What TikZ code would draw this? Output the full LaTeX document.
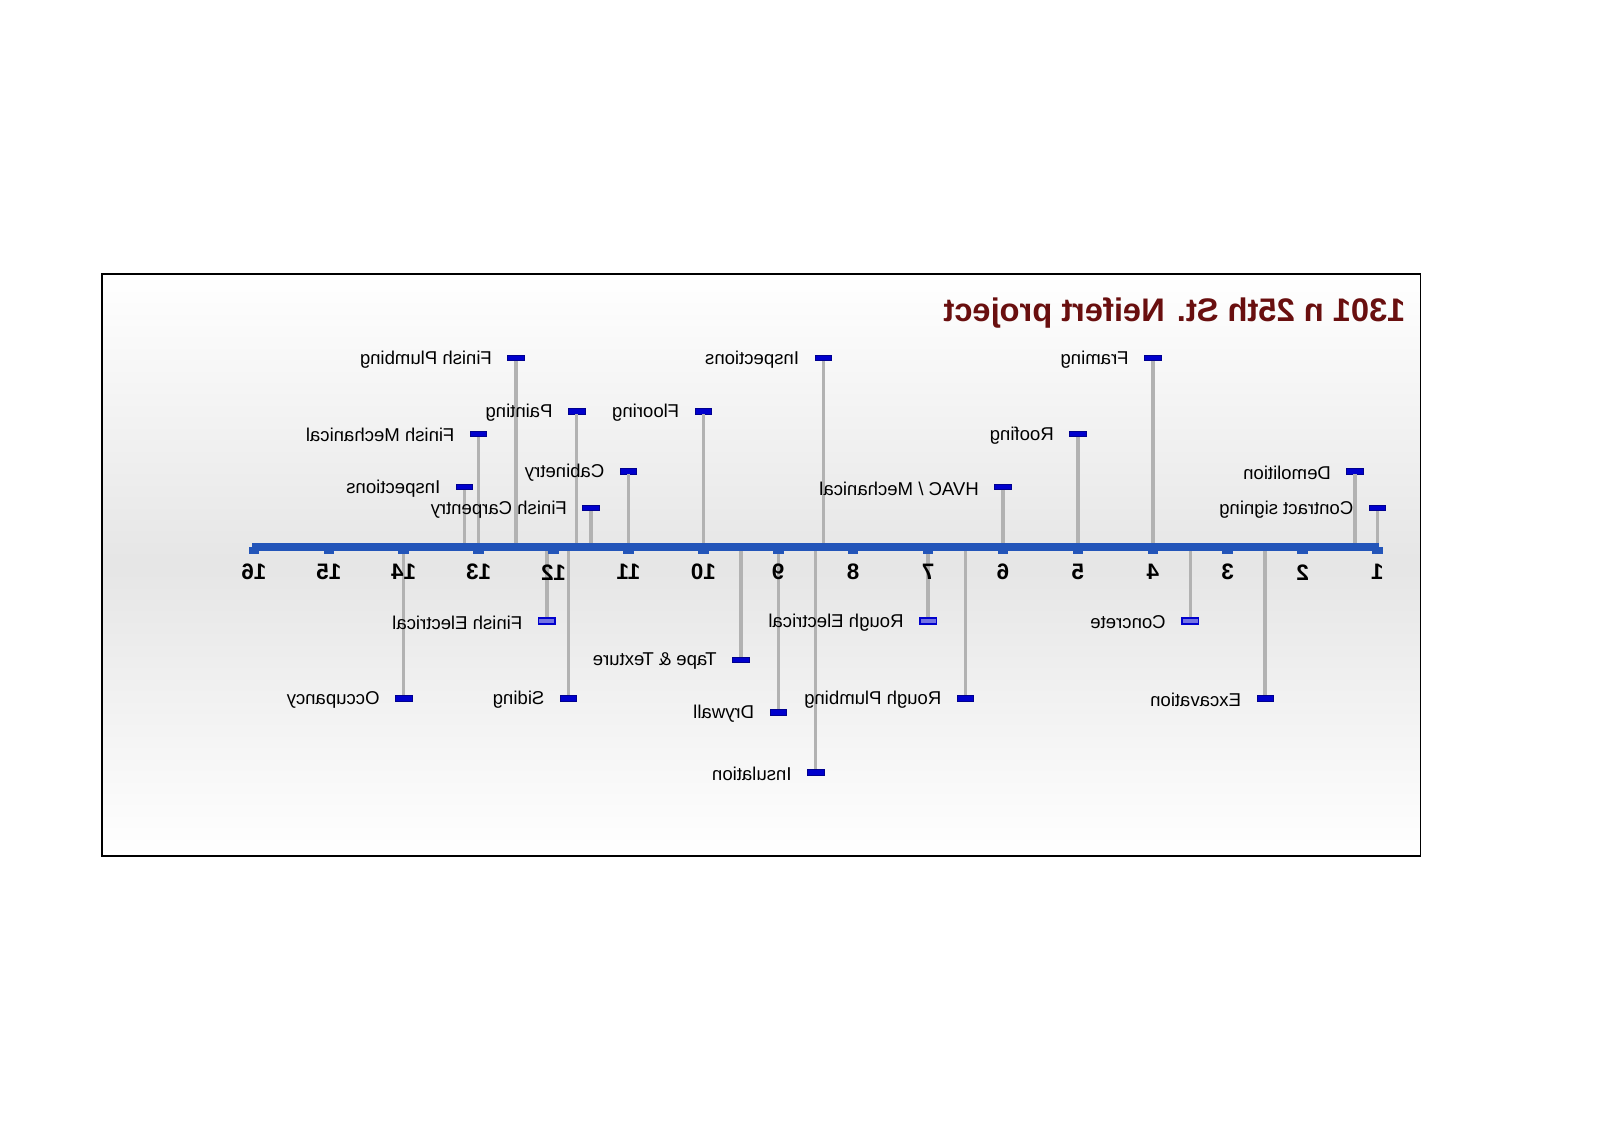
\documentclass[tikz,border=0pt]{standalone}
\usepackage{fontspec}
\setmainfont{Liberation Sans}
\usetikzlibrary{positioning}
\definecolor{axisblue}{RGB}{35,85,185}
\definecolor{taskblue}{RGB}{0,0,205}
\definecolor{titlered}{RGB}{105,15,15}
\definecolor{stemgray}{RGB}{178,178,178}

\begin{document}
\begin{tikzpicture}[x=-1cm, y=1cm,
    task/.style={draw=taskblue!70!black, fill=taskblue, rectangle, minimum width=0.22cm, minimum height=0.075cm, inner sep=0pt, line width=0.3pt},
    opentask/.style={task, draw=taskblue, line width=0.6pt, fill=taskblue!55!white},
    stem/.style={draw=stemgray, line width=1.3pt},
    lbl/.style={xscale=-1, anchor=west, font=\fontsize{7.05}{8}\selectfont, inner sep=0pt},
    num/.style={xscale=-1, font=\bfseries\fontsize{8.5}{9}\selectfont, inner sep=0pt}]
    \useasboundingbox (19.39,7.30) rectangle (-1.97,-7.79);

    % Frame and title
    \draw[top color=white, bottom color=white, middle color=black!10, draw=black, line width=0.6pt] (18.03,3.64) rectangle (0.425,-4.13);
    \node[xscale=-1, anchor=west, inner sep=0pt, text=titlered, font=\bfseries\fontsize{12.4}{15}\selectfont] (title) at (0.62,3.12) {1301 n 25th St. Neifert project};

    \coordinate (start) at (16.02,0);
    \coordinate (end) at (0.98,0);

    % Tasks above the line
    \node[task] (framing) at (4,2.52) {};
    \node[task] (roofing) at (5,1.51) {};
    \node[task] (hvac) at (6,0.8) {};
    \node[task] (insp) at (8.4,2.52) {};
    \node[task] (flooring) at (10,1.81) {};
    \node[task] (cabinetry) at (11,1.01) {};
    \node[task] (painting) at (11.69,1.81) {};
    \node[task] (fcarpentry) at (11.5,0.52) {};
    \node[task] (fplumbing) at (12.5,2.52) {};
    \node[task] (fmechanical) at (13,1.51) {};
    \node[task] (inspb) at (13.19,0.8) {};
    \node[task] (demolition) at (1.3,1.01) {};
    \node[task] (contract) at (1,0.52) {};

    % Tasks below the line
    \node[opentask] (felectrical) at (12.09,-0.99) {};
    \node[opentask] (relectrical) at (7,-0.99) {};
    \node[opentask] (concrete) at (3.5,-0.99) {};
    \node[task] (tape) at (9.5,-1.51) {};
    \node[task] (occupancy) at (14,-2.02) {};
    \node[task] (siding) at (11.8,-2.02) {};
    \node[task] (rplumbing) at (6.5,-2.02) {};
    \node[task] (excavation) at (2.5,-2.02) {};
    \node[task] (drywall) at (9,-2.21) {};
    \node[task] (insulation) at (8.5,-3.01) {};

    % Stems
    \foreach \n in {framing, roofing, hvac, insp, flooring, cabinetry, painting, fcarpentry, fplumbing, fmechanical, inspb, demolition, contract, felectrical, relectrical, concrete, tape, occupancy, siding, rplumbing, excavation, drywall, insulation}
        \draw[stem] (\n) -- (\n |- end);

    % Time line
    \draw[axisblue, line width=2.8pt] (start) -- (end);
    \foreach \k in {1,...,16} {
        \fill[axisblue] (\k-0.07,-0.1) rectangle (\k+0.07,0);
        \node[num] (t\k) at (\k,-0.34) {\k};
    }

    % Labels
    \node[lbl] (framingl) at ([xshift=-0.2cm, yshift=-0.02cm]framing.west) {Framing};
    \node[lbl] (roofingl) at ([xshift=-0.2cm, yshift=-0.02cm]roofing.west) {Roofing};
    \node[lbl] (hvacl) at ([xshift=-0.2cm, yshift=-0.02cm]hvac.west) {HVAC / Mechanical};
    \node[lbl] (inspl) at ([xshift=-0.2cm, yshift=-0.02cm]insp.west) {Inspections};
    \node[lbl] (flooringl) at ([xshift=-0.2cm, yshift=-0.02cm]flooring.west) {Flooring};
    \node[lbl] (cabinetryl) at ([xshift=-0.2cm, yshift=-0.02cm]cabinetry.west) {Cabinetry};
    \node[lbl] (paintingl) at ([xshift=-0.2cm, yshift=-0.02cm]painting.west) {Painting};
    \node[lbl] (fcarpentryl) at ([xshift=-0.2cm, yshift=-0.02cm]fcarpentry.west) {Finish Carpentry};
    \node[lbl] (fplumbingl) at ([xshift=-0.2cm, yshift=-0.02cm]fplumbing.west) {Finish Plumbing};
    \node[lbl] (fmechanicall) at ([xshift=-0.2cm, yshift=-0.02cm]fmechanical.west) {Finish Mechanical};
    \node[lbl] (inspbl) at ([xshift=-0.2cm, yshift=-0.02cm]inspb.west) {Inspections};
    \node[lbl] (demolitionl) at ([xshift=-0.2cm, yshift=-0.02cm]demolition.west) {Demolition};
    \node[lbl] (contractl) at ([xshift=-0.2cm, yshift=-0.02cm]contract.west) {Contract signing};
    \node[lbl] (felectricall) at ([xshift=-0.2cm, yshift=-0.02cm]felectrical.west) {Finish Electrical};
    \node[lbl] (relectricall) at ([xshift=-0.2cm, yshift=-0.02cm]relectrical.west) {Rough Electrical};
    \node[lbl] (concretel) at ([xshift=-0.2cm, yshift=-0.02cm]concrete.west) {Concrete};
    \node[lbl] (tapel) at ([xshift=-0.2cm, yshift=-0.02cm]tape.west) {Tape \& Texture};
    \node[lbl] (occupancyl) at ([xshift=-0.2cm, yshift=-0.02cm]occupancy.west) {Occupancy};
    \node[lbl] (sidingl) at ([xshift=-0.2cm, yshift=-0.02cm]siding.west) {Siding};
    \node[lbl] (rplumbingl) at ([xshift=-0.2cm, yshift=-0.02cm]rplumbing.west) {Rough Plumbing};
    \node[lbl] (excavationl) at ([xshift=-0.2cm, yshift=-0.02cm]excavation.west) {Excavation};
    \node[lbl] (drywalll) at ([xshift=-0.2cm, yshift=-0.02cm]drywall.west) {Drywall};
    \node[lbl] (insulationl) at ([xshift=-0.2cm, yshift=-0.02cm]insulation.west) {Insulation};
\end{tikzpicture}
\end{document}
